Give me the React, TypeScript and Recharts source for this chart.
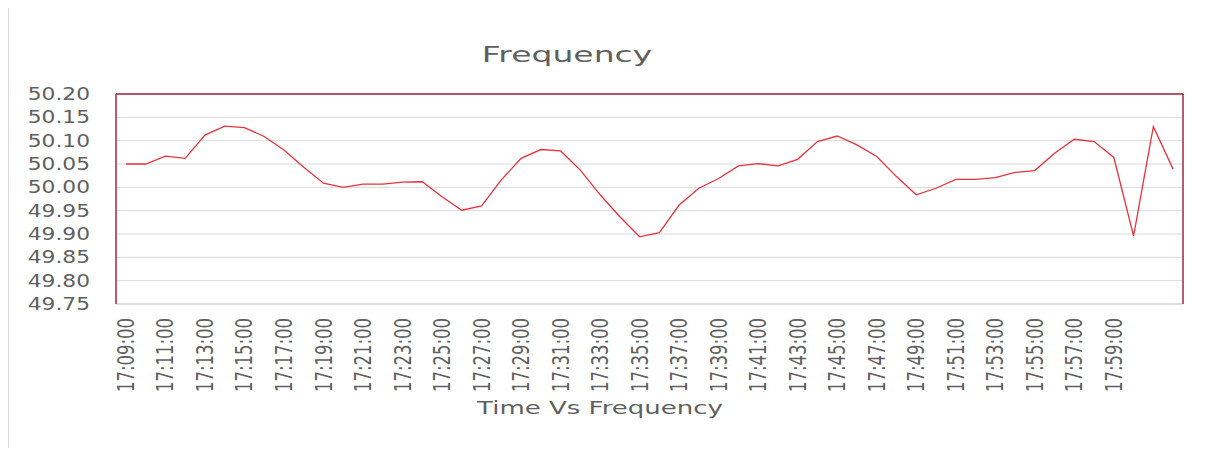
import { LineChart, Line, XAxis, YAxis, CartesianGrid, ReferenceLine } from 'recharts';

const times = [
  '17:09:00', '17:10:00', '17:11:00', '17:12:00', '17:13:00', '17:14:00', '17:15:00', '17:16:00', '17:17:00',
  '17:18:00', '17:19:00', '17:20:00', '17:21:00', '17:22:00', '17:23:00', '17:24:00', '17:25:00', '17:26:00',
  '17:27:00', '17:28:00', '17:29:00', '17:30:00', '17:31:00', '17:32:00', '17:33:00', '17:34:00', '17:35:00',
  '17:36:00', '17:37:00', '17:38:00', '17:39:00', '17:40:00', '17:41:00', '17:42:00', '17:43:00', '17:44:00',
  '17:45:00', '17:46:00', '17:47:00', '17:48:00', '17:49:00', '17:50:00', '17:51:00', '17:52:00', '17:53:00',
  '17:54:00', '17:55:00', '17:56:00', '17:57:00', '17:58:00', '17:59:00', '18:00:00', '18:01:00', '18:02:00',
];

const frequency = [
  50.05, 50.05, 50.067, 50.062, 50.112, 50.131, 50.128, 50.109, 50.08,
  50.043, 50.009, 50.0, 50.007, 50.007, 50.011, 50.012, 49.98, 49.951,
  49.96, 50.016, 50.062, 50.081, 50.078, 50.037, 49.984, 49.937, 49.894,
  49.903, 49.962, 49.998, 50.019, 50.046, 50.051, 50.046, 50.06, 50.098,
  50.11, 50.091, 50.066, 50.023, 49.984, 49.998, 50.017, 50.017, 50.021,
  50.032, 50.036, 50.073, 50.103, 50.098, 50.064, 49.896, 50.13, 50.039,
];

const yTicks = [49.75, 49.8, 49.85, 49.9, 49.95, 50.0, 50.05, 50.1, 50.15, 50.2];

const data = times.map((time, i) => ({ time, freq: frequency[i] }));

const GREY_TEXT = '#5f5f5f';
const BORDER = '#a3253f';
const FONT = 'DejaVu Sans';

// only every second label up to 17:59, like the original sheet
const TimeTick = (props: any) => {
  const { x, y, payload } = props;
  const idx = props.index ?? payload.index;
  if (idx % 2 !== 0 || idx > 50) return <g />;
  return (
    <text
      transform={`translate(${x},${y + 6}) rotate(-90) scale(1,1.35)`}
      x={0}
      y={0}
      dy="0.36em"
      textAnchor="end"
      fill={GREY_TEXT}
      fontSize={16.5}
      fontFamily={FONT}
    >
      {payload.value}
    </text>
  );
};

const FreqTick = (props: any) => {
  const { x, y, payload } = props;
  return (
    <text
      transform={`translate(${x - 18},${y}) scale(1.28,1)`}
      x={0}
      y={0}
      dy="0.36em"
      textAnchor="end"
      fill={GREY_TEXT}
      fontSize={17}
      fontFamily={FONT}
    >
      {Number(payload.value).toFixed(2)}
    </text>
  );
};

export default function App() {
  return (
    <div style={{ position: 'relative', width: 1215, height: 456, margin: -8, overflow: 'hidden', background: '#fff' }}>
      <LineChart
        width={1215}
        height={456}
        data={data}
        margin={{ top: 94, right: 0, left: 0, bottom: 0 }}
        style={{ position: 'absolute', left: 0, top: 0 }}
      >
        <CartesianGrid horizontal vertical={false} stroke="#d9d9d9" />
        <XAxis
          dataKey="time"
          interval={0}
          height={152}
          padding={{ left: 9.9, right: 9.9 }}
          tickLine={false}
          axisLine={false}
          tick={<TimeTick />}
        />
        <YAxis
          width={116}
          domain={[49.75, 50.2]}
          ticks={yTicks}
          tickLine={false}
          axisLine={{ stroke: BORDER, strokeWidth: 1.5 }}
          tick={<FreqTick />}
        />
        <YAxis
          yAxisId="right"
          orientation="right"
          width={32}
          domain={[49.75, 50.2]}
          ticks={yTicks}
          tick={false}
          tickLine={false}
          axisLine={{ stroke: BORDER, strokeWidth: 1.5 }}
        />
        <ReferenceLine y={49.75} stroke="#d0d0d0" />
        <ReferenceLine y={50.2} stroke={BORDER} strokeWidth={1.5} />
        <Line
          type="linear"
          dataKey="freq"
          stroke="#e8323f"
          strokeWidth={1.3}
          dot={false}
          isAnimationActive={false}
        />
      </LineChart>
      <svg
        width={1215}
        height={456}
        style={{ position: 'absolute', left: 0, top: 0, pointerEvents: 'none' }}
      >
        <path d="M8.5,456 V7.5 H1213.5 V456" fill="none" stroke="#d9d9d9" />
        <text transform="translate(567,62) scale(1.5,1)" textAnchor="middle" fontSize={22} fontFamily={FONT} fill={GREY_TEXT}>
          Frequency
        </text>
        <text transform="translate(600,414) scale(1.53,1)" textAnchor="middle" fontSize={17} fontFamily={FONT} fill={GREY_TEXT}>
          Time Vs Frequency
        </text>
      </svg>
    </div>
  );
}
